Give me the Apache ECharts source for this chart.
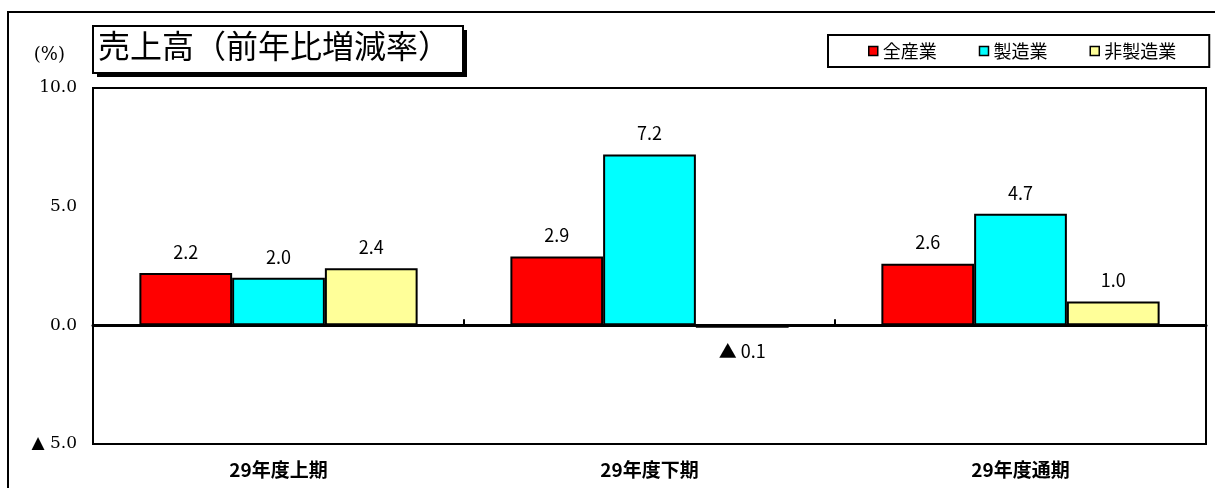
<!DOCTYPE html>
<html lang="ja">
<head>
    <meta charset="UTF-8">
    <title>売上高</title>
    <style>
        html, body { margin: 0; padding: 0; background: #fff; }
        #main { width: 1215px; height: 488px; }
    </style>
</head>
<body>
    <div id="main"></div>
</body>
<script src="https://cdn.jsdelivr.net/npm/echarts@6/dist/echarts.min.js"></script>
<script>
    var categories = ['29年度上期', '29年度下期', '29年度通期'];
    var allIndustry = [2.2, 2.9, 2.6];
    var manufacturing = [2.0, 7.2, 4.7];
    var nonManufacturing = [2.4, -0.1, 1.0];
    var seriesNames = ['全産業', '製造業', '非製造業'];
    var seriesColors = ['#ff0000', '#00ffff', '#ffff99'];

    var gothic = '"Noto Sans CJK JP", sans-serif';
    var mincho = '"DejaVu Serif", serif';

    // negative numbers are written with a triangle
    function fmt(v) {
        return v < 0 ? '▲ ' + Math.abs(v).toFixed(1) : v.toFixed(1);
    }

    function makeSeries(name, data, color) {
        return {
            name: name,
            type: 'bar',
            xAxisIndex: 0,
            data: data.map(function (v) {
                if (v < 0) {
                    return { value: v, label: { position: 'bottom', distance: 14 } };
                }
                return v;
            }),
            barGap: '0%',
            barCategoryGap: '25%',
            itemStyle: { color: color, borderColor: '#000', borderWidth: 2 },
            label: {
                show: true,
                position: 'top',
                distance: 12,
                color: '#000',
                fontFamily: gothic,
                fontSize: 18,
                formatter: function (p) { return fmt(p.value); }
            }
        };
    }

    var myChart = echarts.init(document.getElementById('main'));
    var option = {
        backgroundColor: '#fff',
        animation: false,
        grid: {
            left: 93, right: 9, top: 88, bottom: 44,
            show: true, borderColor: '#000', borderWidth: 2
        },
        legend: {
            data: seriesNames,
            left: 828, top: 35,
            padding: [7, 33, 7, 40],
            borderColor: '#000',
            borderWidth: 2,
            itemWidth: 9, itemHeight: 9,
            itemGap: 42,
            icon: 'rect',
            itemStyle: { borderColor: '#000', borderWidth: 1.5 },
            textStyle: { fontFamily: gothic, fontSize: 18, color: '#000' }
        },
        xAxis: [{
            type: 'category',
            data: categories,
            axisLine: { onZero: false, lineStyle: { color: '#000', width: 2 } },
            axisTick: { show: false },
            axisLabel: {
                margin: 16, color: '#000', fontFamily: gothic,
                fontSize: 19, fontWeight: 'bold'
            }
        }, {
            type: 'category',
            data: categories,
            position: 'bottom',
            axisLine: { onZero: true, lineStyle: { color: '#000', width: 3 } },
            axisTick: { show: true, inside: true, length: 6, lineStyle: { color: '#000', width: 2 } },
            axisLabel: { show: false }
        }],
        yAxis: {
            type: 'value',
            min: -5, max: 10, interval: 5,
            name: '(%)',
            nameLocation: 'end',
            nameGap: 24,
            nameTextStyle: { fontFamily: mincho, fontSize: 18, color: '#000', align: 'right', padding: [0, 28, 0, 0] },
            axisLine: { show: true, lineStyle: { color: '#000', width: 2 } },
            axisTick: { show: false },
            splitLine: { show: false },
            axisLabel: {
                margin: 16,
                color: '#000',
                fontFamily: mincho,
                fontSize: 17,
                formatter: function (v) { return fmt(v); }
            }
        },
        series: [
            makeSeries(seriesNames[0], allIndustry, seriesColors[0]),
            makeSeries(seriesNames[1], manufacturing, seriesColors[1]),
            makeSeries(seriesNames[2], nonManufacturing, seriesColors[2])
        ],
        graphic: [
            {
                type: 'rect', z: 0,
                shape: { x: 8, y: 12, width: 1220, height: 490 },
                style: { fill: 'none', stroke: '#000', lineWidth: 2 }
            },
            {
                type: 'rect', z: 10,
                shape: { x: 97, y: 30, width: 370, height: 47 },
                style: { fill: '#000' }
            },
            {
                type: 'rect', z: 11,
                shape: { x: 93, y: 26, width: 370, height: 47 },
                style: { fill: '#fff', stroke: '#000', lineWidth: 2 }
            },
            {
                type: 'text', z: 12,
                left: 98, top: 30,
                style: {
                    text: '売上高（前年比増減率）',
                    font: '32px "Noto Sans CJK JP"',
                    fill: '#000'
                }
            }
        ]
    };
    myChart.setOption(option);
</script>
</html>
